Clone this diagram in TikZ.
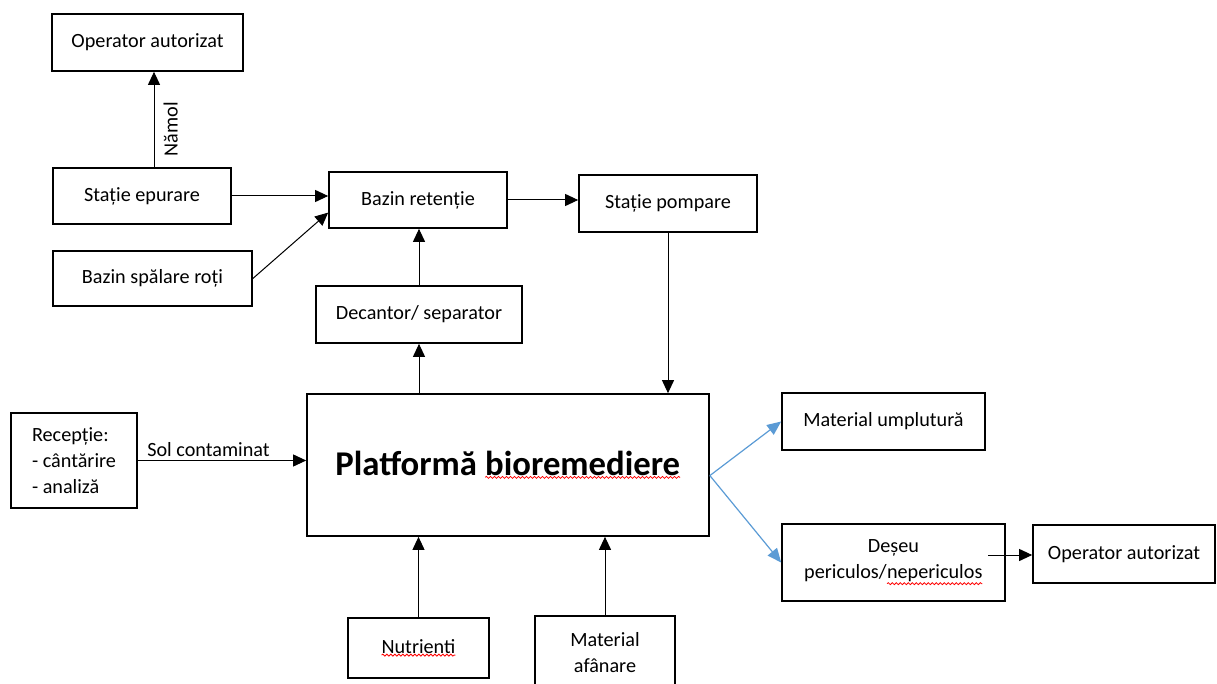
\documentclass[tikz,border=0pt]{standalone}
\usepackage{fontspec}
\setmainfont{Carlito}
\usetikzlibrary{arrows.meta,decorations.pathmorphing}

\definecolor{officeblue}{RGB}{91,155,213}
\tikzset{
  box/.style={draw,line width=1.7pt,inner sep=2pt,align=center,font=\fontsize{20.2}{26}\selectfont},
  lbl/.style={inner sep=3pt,font=\fontsize{20.2}{24}\selectfont},
  arr/.style={line width=1pt,-{Triangle[length=13pt,width=12pt]}},
  bluearr/.style={officeblue,line width=1.2pt,-{Triangle[length=14pt,width=12pt]}},
}
% red wavy spell-check mark under a word
\newcommand{\spellmark}[1]{\tikz[baseline=(sw.base)]{\node[draw=none,inner sep=0pt,outer sep=0pt,minimum width=0pt,minimum height=0pt](sw){#1};
  \draw[red,line width=0.8pt,decorate,decoration={snake,amplitude=1pt,segment length=4pt}]([yshift=-1.5pt]sw.south west)--([yshift=-1.5pt]sw.south east);}}

\begin{document}
\begin{tikzpicture}[x=1pt,y=-1pt]
\useasboundingbox (0,0) rectangle (1217,684);
% upper part
\node (opTop)[box,minimum width=191,minimum height=57] at (147.5,42.5){Operator autorizat};
\node (statEp)[box,minimum width=178,minimum height=56] at (142,196){Stație epurare};
\node (bazSpal)[box,minimum width=199,minimum height=55] at (152.5,278.5){Bazin spălare roți};
\node (bazRet)[box,minimum width=178,minimum height=56] at (418,200){Bazin retenție};
\node (statPomp)[box,minimum width=178,minimum height=57] at (668,203.5){Stație pompare};
\node (decant)[box,minimum width=206,minimum height=57] at (419,314.5){Decantor/ separator};
% middle row
\node (recep)[box,align=left,minimum width=126,minimum height=95] at (74,460.5){Recepție:\\- cântărire\\- analiză};
\node (platf)[box,minimum width=402,minimum height=142,font=\fontsize{34.7}{40}\selectfont\bfseries] at (508,465){Platformă \spellmark{bioremediere}};
\node (matUmpl)[box,minimum width=203,minimum height=57] at (883.5,421.5){Material umplutură};
\node (deseu)[box,minimum width=223,minimum height=77] at (893.5,562.5){Deșeu\\periculos/\spellmark{nepericulos}};
\node (opRight)[box,minimum width=182,minimum height=58] at (1124,554){Operator autorizat};
% inputs below
\node (nutr)[box,minimum width=141,minimum height=60] at (418.5,648){\spellmark{Nutrienti}};
\node (matAfan)[box,minimum width=140,minimum height=74] at (605,653){Material\\afânare};

% draw the connections
\coordinate (namolFoot) at ([xshift=12pt]statEp.north);
\draw[arr] (namolFoot) -- node[lbl,pos=0.4,rotate=90,anchor=north,inner sep=9pt]{Nămol} (namolFoot |- opTop.south);
\draw[arr] (statEp.east) -- (statEp.east -| bazRet.west);
\draw[arr] (bazSpal.east) -- (bazRet.188);
\draw[arr] (bazRet.east) -- (bazRet.east -| statPomp.west);
\draw[arr] (decant.north) -- (decant.north |- bazRet.south);
\draw[arr] (platf.north -| decant.south) -- (decant.south);
\draw[arr] (statPomp.south) -- (statPomp.south |- platf.north);
\draw[arr] (recep.east) -- node[lbl,above,pos=0.42]{Sol contaminat} (recep.east -| platf.west);
\draw[arr] (nutr.north) -- (nutr.north |- platf.south);
\draw[arr] (matAfan.north) -- (matAfan.north |- platf.south);
\draw[bluearr] (platf.-3) -- (matUmpl.west);
\draw[bluearr] (platf.-3) -- (deseu.west);
\coordinate (deseuOut) at (988,555);
\draw[arr] (deseuOut) -- (deseuOut -| opRight.west);
\end{tikzpicture}
\end{document}
